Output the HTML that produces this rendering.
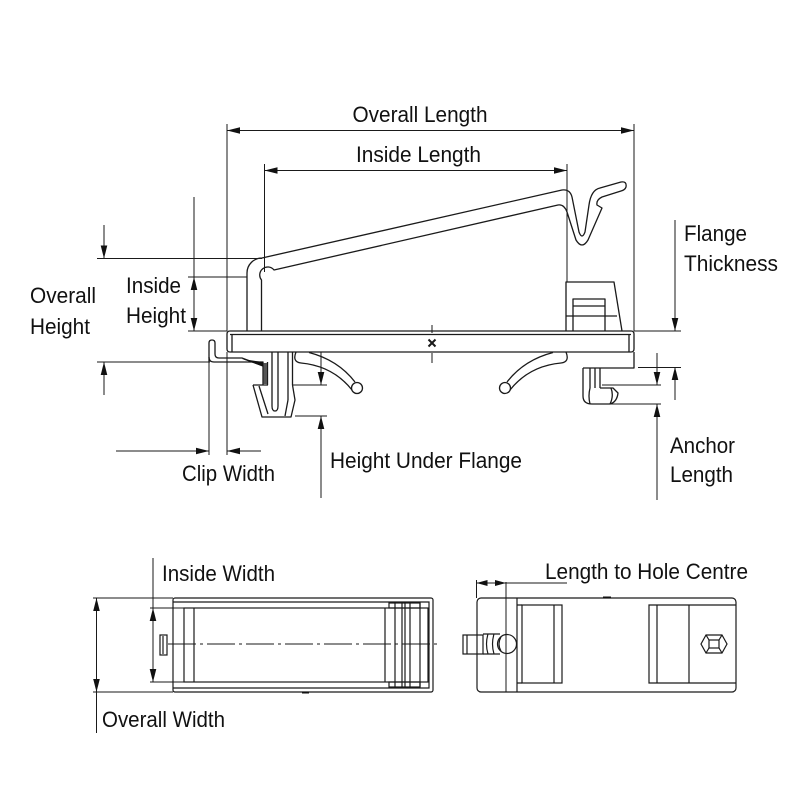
<!DOCTYPE html>
<html>
<head>
<meta charset="utf-8">
<style>
html,body{margin:0;padding:0;background:#fff;}
svg{display:block;}
text{font-family:"Liberation Sans",Arial,sans-serif;font-size:22.5px;fill:#111;}
</style>
</head>
<body>
<svg width="800" height="800" viewBox="0 0 800 800" xmlns="http://www.w3.org/2000/svg">
<rect width="800" height="800" fill="#fff"/>

<!-- ===== Dimension / extension lines ===== -->
<g fill="none" stroke="#1a1a1a" stroke-width="1">
  <path d="M227,124 V331 M634,124 V331 M227,130.5 H634"/>
  <path d="M264.5,164 V272 M567,164 V282 M264.5,170.5 H567"/>
  <path d="M97,258.5 H262 M104,225 V258 M97,362 H210 M104,362 V395"/>
  <path d="M188,277 H247 M188,331 H227 M194,197 V331"/>
  <path d="M634,331 H681 M675,220 V331 M638,367.5 H681 M675,367 V400"/>
  <path d="M602,385 H661 M610,404 H661 M657,353 V385 M657,404 V500"/>
  <path d="M209,362 V455 M227,352 V455 M116,451 H209 M227,451 H261"/>
  <path d="M293,385 H327 M321,352 V385 M295,416 H327 M321,416 V498"/>
  <path d="M432,325 V333 M432,353 V363"/>
  <!-- top views -->
  <path d="M93,598 H173 M93,692 H173 M96.5,598 V733"/>
  <path d="M150,608 H184 M150,682 H184 M153,558 V682"/>
  <path d="M476.5,580 V598 M506,582 V692 M476.5,583 H567"/>
</g>

<!-- ===== Arrowheads ===== -->
<g fill="#111" stroke="none">
  <polygon points="227,130.5 240,127.2 240,133.8"/>
  <polygon points="634,130.5 621,127.2 621,133.8"/>
  <polygon points="264.5,170.5 277.5,167.2 277.5,173.8"/>
  <polygon points="567,170.5 554,167.2 554,173.8"/>
  <polygon points="104,258.5 100.7,245.5 107.3,245.5"/>
  <polygon points="104,362 100.7,375 107.3,375"/>
  <polygon points="194,277 190.7,290 197.3,290"/>
  <polygon points="194,331 190.7,318 197.3,318"/>
  <polygon points="675,331 671.7,318 678.3,318"/>
  <polygon points="675,367 671.7,380 678.3,380"/>
  <polygon points="657,385 653.7,372 660.3,372"/>
  <polygon points="657,404 653.7,417 660.3,417"/>
  <polygon points="209,451 196,447.7 196,454.3"/>
  <polygon points="227,451 240,447.7 240,454.3"/>
  <polygon points="321,385 317.7,372 324.3,372"/>
  <polygon points="321,416 317.7,429 324.3,429"/>
  <polygon points="96.5,598 93.2,611 99.8,611"/>
  <polygon points="96.5,692 93.2,679 99.8,679"/>
  <polygon points="153,608 149.7,621 156.3,621"/>
  <polygon points="153,682 149.7,669 156.3,669"/>
  <polygon points="476.5,583 487.5,580 487.5,586"/>
  <polygon points="506,583 495,580 495,586"/>
</g>

<!-- ===== Side view part ===== -->
<g fill="none" stroke="#1a1a1a" stroke-width="1.3" stroke-linejoin="round">
  <!-- flange -->
  <path d="M230,331 L631,331 Q634,331 634,334 L634,349 Q634,352 631,352 L230,352 Q227,352 227,349 L227,334 Q227,331 230,331 Z"/>
  <path d="M230,334.5 H631 M232,334.5 V352 M629,334.5 V352"/>
  <!-- x mark -->
  <path d="M428.5,339.5 L435.5,346.5 M428.5,346.5 L435.5,339.5" stroke-width="2"/>

  <!-- post + arm + hook -->
  <path d="M247,331 L247,273 A15,15 0 0 1 262,258 L562,190 Q570,189 572,197 L579,232 Q582,240 585,232 L589,205 Q591,190 600,188 L621,182 Q627,181 626,187 Q625,190 621,191 L602,197 Q596,200 597,205 L602,208 L588,240 Q582,250 576,240 L567,212 Q564,204 558,205 L274,270 A8,8 0 1 0 261.5,280 L261.5,331"/>

  <!-- right block -->
  <path d="M566,331 L566,282 L614,282 L622,331"/>
  <path d="M573,331 V299 H605 V331 M573,306 H605 M566,316 H617"/>

  <!-- lower right block -->
  <path d="M583,368 H634 V352"/>

  <!-- right anchor -->
  <path d="M583,368 L583,396 Q583,404 592,404 L610,404 Q617,402 618,393 L613,388 L600,388"/>
  <path d="M590,368 V388 Q588,396 590,404 M595,368 V388 M600,368 V388 M611,388 Q614,396 610,404"/>

  <!-- flexible arms under flange -->
  <path d="M296,352 Q292,362 301,363 Q333,366 352,390"/>
  <path d="M309,352.5 Q338,360 355,382"/>
  <circle cx="357" cy="388" r="5.5"/>
  <path d="M566,352 Q570,362 561,363 Q529,366 510,390"/>
  <path d="M553,352.5 Q524,360 507,382"/>
  <circle cx="505" cy="388" r="5.5"/>

  <!-- left small hook -->
  <path d="M209,362 L209,343 Q209,340 212,340 Q215,340 215,343 L215,354 Q215,358 219,358 L242,358 L263,366"/>
  <path d="M209,357 Q209,362 214,362 L263,362 L263,385"/>
  <path d="M267.5,362 V385"/>

  <!-- clip body -->
  <path d="M272,352 L272,406 Q272,411 275,411 Q278,411 278,406 L278,352"/>
  <path d="M288,352 V400 M292.5,352 V385"/>
  <path d="M253,385 H268 M253,385 L262,417 L291,417 L295,400 L292.5,385"/>
  <path d="M259,386 L268,414 M288,400 L285,416"/>
</g>
<polygon points="242,359 263,362 263,366.5" fill="#111"/>
<polygon points="263.5,363 267,363 267,384 263.5,384" fill="#555"/>

<!-- ===== Top view left ===== -->
<g fill="none" stroke="#1a1a1a" stroke-width="1.2">
  <rect x="173" y="598" width="260" height="94" rx="2"/>
  <path d="M173,602 H429 V688 H173"/>
  <rect x="184" y="608" width="244" height="74"/>
  <path d="M194,608 V682"/>
  <path d="M385,608 V682 M395,603 V687 M402,603 V687 M405,603 V687 M410,603 V687 M420,603 V687"/>
  <rect x="389" y="603" width="31" height="5"/>
  <rect x="389" y="682" width="31" height="5"/>
  <rect x="160" y="635" width="7" height="20"/>
  <path d="M163,636 V654"/>
  <path d="M168,644 H438" stroke-width="0.9" stroke-dasharray="28 4 3 4"/>
</g>
<path d="M302,692.5 H309" stroke="#111" stroke-width="2"/>

<!-- ===== Top view right ===== -->
<g fill="none" stroke="#1a1a1a" stroke-width="1.2">
  <rect x="477" y="598" width="259" height="94" rx="4"/>
  <path d="M517,598 V692 M517,605 H522 M517,683 H522"/>
  <rect x="522" y="605" width="40" height="78"/>
  <path d="M554,605 V683"/>
  <path d="M736,605 H649 V683 H736 M657,605 V683 M689,605 V683"/>
  <polygon points="706,635 722,635 727,644 722,653 706,653 701,644"/>
  <rect x="709" y="640" width="10" height="8"/>
  <path d="M706,635 L709,640 M722,635 L719,640 M706,653 L709,648 M722,653 L719,648"/>
  <rect x="463" y="635" width="20" height="19"/>
  <path d="M467,635 V654"/>
  <path d="M483,634 H500 M483,654 H500 M488,634 Q485,644 488,654 M494,634 Q491,644 494,654"/>
  <circle cx="507" cy="644" r="9.5"/>
  <path d="M501,637 Q497,644 501,651"/>
</g>
<path d="M603,597.5 H611" stroke="#111" stroke-width="2"/>

<!-- ===== Labels ===== -->
<text x="352.5" y="122" textLength="135" lengthAdjust="spacingAndGlyphs">Overall Length</text>
<text x="356" y="162" textLength="125" lengthAdjust="spacingAndGlyphs">Inside Length</text>
<text x="684" y="241" textLength="63" lengthAdjust="spacingAndGlyphs">Flange</text>
<text x="684" y="271" textLength="94" lengthAdjust="spacingAndGlyphs">Thickness</text>
<text x="30" y="303" textLength="66" lengthAdjust="spacingAndGlyphs">Overall</text>
<text x="30" y="334" textLength="60" lengthAdjust="spacingAndGlyphs">Height</text>
<text x="126" y="293" textLength="55" lengthAdjust="spacingAndGlyphs">Inside</text>
<text x="126" y="323" textLength="60" lengthAdjust="spacingAndGlyphs">Height</text>
<text x="182" y="481" textLength="93" lengthAdjust="spacingAndGlyphs">Clip Width</text>
<text x="330" y="468" textLength="192" lengthAdjust="spacingAndGlyphs">Height Under Flange</text>
<text x="670" y="453" textLength="65" lengthAdjust="spacingAndGlyphs">Anchor</text>
<text x="670" y="482" textLength="63" lengthAdjust="spacingAndGlyphs">Length</text>
<text x="162" y="581" textLength="113" lengthAdjust="spacingAndGlyphs">Inside Width</text>
<text x="102" y="727" textLength="123" lengthAdjust="spacingAndGlyphs">Overall Width</text>
<text x="545" y="579" textLength="203" lengthAdjust="spacingAndGlyphs">Length to Hole Centre</text>
</svg>
</body>
</html>
